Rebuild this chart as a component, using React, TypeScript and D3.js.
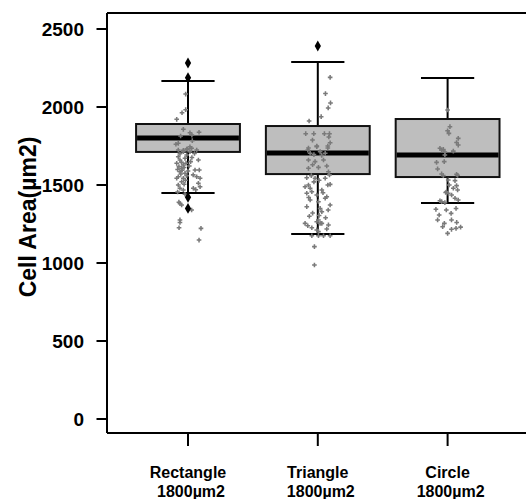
import React, { useEffect, useRef } from 'react';
import * as d3 from 'd3';

// categories and labels
const categories = ['Rectangle', 'Triangle', 'Circle'];
const subLabels = ['1800µm2', '1800µm2', '1800µm2'];
const yTicks = [0, 500, 1000, 1500, 2000, 2500];

// box statistics
const q1 = [1712, 1570, 1551];
const medians = [1801, 1705, 1692];
const q3 = [1891, 1878, 1923];
const whiskerLow = [1449, 1186, 1385];
const whiskerHigh = [2167, 2288, 2186];
const outliers = [[2282, 2188, 1421, 1350], [2391], []];

// raw points: [jitter (fraction of band step), area]
const rectanglePts = [
  [-0.018, 2083], [-0.018, 1983], [-0.046, 1963], [-0.087, 1921],
  [-0.036, 1857], [-0.057, 1814], [0.015, 1835], [0.085, 1838], [0.03, 1820],
  [-0.075, 1767], [-0.093, 1761], [0.033, 1784], [0.015, 1745], [-0.005, 1730],
  [-0.036, 1722], [0.067, 1724], [-0.075, 1724], [-0.036, 1714], [-0.01, 1731],
  [0.028, 1735], [0.015, 1714], [-0.062, 1700], [0.05, 1702], [-0.01, 1692],
  [-0.075, 1681], [-0.023, 1671], [0.03, 1676], [-0.062, 1660], [0.08, 1660],
  [-0.087, 1639], [-0.036, 1628], [-0.05, 1645], [-0.015, 1640], [0.02, 1650],
  [-0.049, 1607], [-0.07, 1618], [-0.03, 1612], [0.01, 1622], [-0.062, 1585],
  [-0.023, 1575], [-0.045, 1595], [0.0, 1590], [0.054, 1596], [0.087, 1596],
  [-0.08, 1600], [-0.055, 1570], [-0.075, 1553], [-0.036, 1543], [-0.087, 1543],
  [-0.01, 1560], [0.067, 1553], [0.093, 1543], [0.04, 1565], [-0.049, 1521],
  [-0.02, 1530], [0.08, 1511], [-0.075, 1500], [-0.03, 1505], [0.093, 1489],
  [-0.062, 1479], [0.041, 1479], [-0.036, 1468], [0.06, 1470], [-0.023, 1441],
  [-0.08, 1455], [-0.062, 1382], [-0.049, 1372], [-0.07, 1390], [0.028, 1340],
  [-0.062, 1276], [-0.062, 1260], [-0.069, 1226], [0.1, 1222], [0.085, 1147]
];

const trianglePts = [
  [0.095, 2190], [0.059, 2086], [0.098, 2026], [0.08, 1994], [0.026, 1938],
  [-0.067, 1910], [-0.093, 1829], [-0.031, 1829], [0.051, 1829], [0.09, 1829],
  [-0.041, 1788], [0.085, 1808], [0.095, 1771], [-0.008, 1750], [-0.072, 1737],
  [0.077, 1737], [-0.077, 1724], [-0.008, 1746], [0.077, 1750], [-0.059, 1703],
  [0.018, 1714], [0.057, 1703], [-0.03, 1695], [0.03, 1690], [-0.072, 1660],
  [-0.021, 1650], [0.044, 1660], [-0.072, 1607], [0.005, 1613], [0.069, 1622],
  [0.082, 1585], [-0.04, 1630], [-0.085, 1547], [-0.021, 1543], [0.057, 1543],
  [-0.05, 1560], [0.09, 1565], [-0.072, 1500], [-0.098, 1489], [-0.059, 1479],
  [0.077, 1500], [0.095, 1504], [0.031, 1468], [-0.03, 1520], [0.01, 1530],
  [-0.085, 1447], [-0.046, 1457], [0.069, 1425], [-0.008, 1436], [0.04, 1450],
  [-0.059, 1404], [0.057, 1415], [0.005, 1393], [0.095, 1372], [-0.07, 1420],
  [-0.085, 1361], [0.018, 1350], [0.031, 1329], [0.08, 1340], [-0.04, 1320],
  [-0.065, 1300], [0.01, 1305], [0.06, 1290], [-0.098, 1254], [-0.008, 1265],
  [0.031, 1254], [-0.077, 1239], [-0.046, 1226], [0.005, 1276], [0.018, 1254],
  [0.082, 1244], [0.069, 1218], [-0.008, 1212], [0.005, 1201], [-0.046, 1175],
  [0.005, 1175], [0.044, 1175], [0.095, 1175], [-0.026, 1105], [-0.026, 987]
];

const circlePts = [
  [0.0, 1981], [0.018, 1874], [0.0, 1848], [0.01, 1831], [0.082, 1799],
  [0.069, 1772], [0.082, 1756], [-0.059, 1735], [-0.046, 1724], [-0.033, 1728],
  [-0.021, 1712], [0.044, 1717], [-0.021, 1692], [-0.085, 1645], [-0.026, 1650],
  [-0.077, 1603], [-0.046, 1571], [-0.033, 1560], [0.069, 1568], [0.077, 1562],
  [0.005, 1532], [0.057, 1528], [0.013, 1500], [0.069, 1496], [0.044, 1479],
  [-0.008, 1457], [0.005, 1447], [-0.015, 1452], [0.077, 1468], [0.031, 1436],
  [0.057, 1415], [-0.059, 1399], [-0.046, 1393], [0.082, 1404], [-0.021, 1387],
  [-0.09, 1344], [-0.01, 1340], [0.065, 1350], [-0.065, 1308], [0.027, 1318],
  [-0.077, 1276], [-0.025, 1254], [0.03, 1276], [-0.038, 1233], [0.03, 1216],
  [0.065, 1222], [0.0, 1190], [0.07, 1260], [0.1, 1230]
];

const points = [rectanglePts, trianglePts, circlePts];

const font = '"Liberation Sans", Arial, sans-serif';

function App() {
  const svgRef = useRef(null);

  useEffect(() => {
    const svg = d3.select(svgRef.current);
    svg.selectAll('*').remove();

    const frame = { left: 107, top: 13, bottom: 433, right: 530 };

    const x = d3.scalePoint().domain(categories).range([123.1, 512.5]).padding(0.5);
    const step = x.step();
    const y = d3.scaleLinear().domain([0, 2500]).range([419, 29]);

    const boxW = step * 0.8;
    const capW = step * 0.41;

    // y ticks
    const yAxis = svg.append('g');
    yTicks.forEach((t) => {
      yAxis.append('line')
        .attr('x1', frame.left - 10.5).attr('x2', frame.left)
        .attr('y1', y(t)).attr('y2', y(t))
        .attr('stroke', '#000').attr('stroke-width', 2);
      yAxis.append('text')
        .attr('x', 84).attr('y', y(t)).attr('dy', '0.36em')
        .attr('text-anchor', 'end')
        .style('font', `bold 19px ${font}`)
        .text(t);
    });

    // x ticks and labels
    categories.forEach((c, i) => {
      svg.append('line')
        .attr('x1', x(c)).attr('x2', x(c))
        .attr('y1', frame.bottom).attr('y2', frame.bottom + 13)
        .attr('stroke', '#000').attr('stroke-width', 2);
      svg.append('text')
        .attr('x', x(c)).attr('y', 478)
        .attr('text-anchor', 'middle')
        .style('font', `bold 16px ${font}`)
        .text(c);
      svg.append('text')
        .attr('x', x(c) + 3).attr('y', 497)
        .attr('text-anchor', 'middle')
        .style('font', `bold 16px ${font}`)
        .text(subLabels[i]);
    });

    // y title
    svg.append('text')
      .attr('transform', 'translate(36,217) rotate(-90)')
      .attr('text-anchor', 'middle')
      .style('font', `bold 23px ${font}`)
      .text('Cell Area(µm2)');

    // boxes
    const g = svg.append('g');
    categories.forEach((c, i) => {
      const cx = x(c);
      g.append('line')
        .attr('x1', cx).attr('x2', cx)
        .attr('y1', y(whiskerHigh[i])).attr('y2', y(whiskerLow[i]))
        .attr('stroke', '#000').attr('stroke-width', 2);
      [whiskerHigh[i], whiskerLow[i]].forEach((v) => {
        g.append('line')
          .attr('x1', cx - capW / 2).attr('x2', cx + capW / 2)
          .attr('y1', y(v)).attr('y2', y(v))
          .attr('stroke', '#000').attr('stroke-width', 2);
      });
      g.append('rect')
        .attr('x', cx - boxW / 2).attr('width', boxW)
        .attr('y', y(q3[i])).attr('height', y(q1[i]) - y(q3[i]))
        .attr('fill', '#bebebe').attr('stroke', '#111').attr('stroke-width', 2);
      g.append('line')
        .attr('x1', cx - boxW / 2 + 1).attr('x2', cx + boxW / 2 - 1)
        .attr('y1', y(medians[i])).attr('y2', y(medians[i]))
        .attr('stroke', '#000').attr('stroke-width', 5);
    });

    // jittered raw points
    const cross = d3.symbol().type(d3.symbolCross).size(12);
    categories.forEach((c, i) => {
      g.selectAll(`.pt${i}`)
        .data(points[i])
        .enter()
        .append('path')
        .attr('d', cross)
        .attr('transform', (d) => `translate(${x(c) + d[0] * step},${y(d[1])})`)
        .attr('fill', '#7a7a7a');
    });

    // outliers
    const diamond = d3.symbol().type(d3.symbolDiamond).size(34);
    categories.forEach((c, i) => {
      g.selectAll(`.out${i}`)
        .data(outliers[i])
        .enter()
        .append('path')
        .attr('d', diamond)
        .attr('transform', (d) => `translate(${x(c)},${y(d)})`)
        .attr('fill', '#000');
    });

    // frame: left, top and bottom lines
    const fr = svg.append('g').attr('stroke', '#000').attr('stroke-width', 2);
    fr.append('line').attr('x1', frame.left).attr('x2', frame.left).attr('y1', frame.top).attr('y2', frame.bottom);
    fr.append('line').attr('x1', frame.left).attr('x2', frame.right).attr('y1', frame.top).attr('y2', frame.top);
    fr.append('line').attr('x1', frame.left).attr('x2', frame.right).attr('y1', frame.bottom).attr('y2', frame.bottom);
  }, []);

  return (
    <svg ref={svgRef} width="526" height="499"
      style={{ position: 'absolute', left: 0, top: 0, background: '#fff' }}></svg>
  );
}

export default App;
